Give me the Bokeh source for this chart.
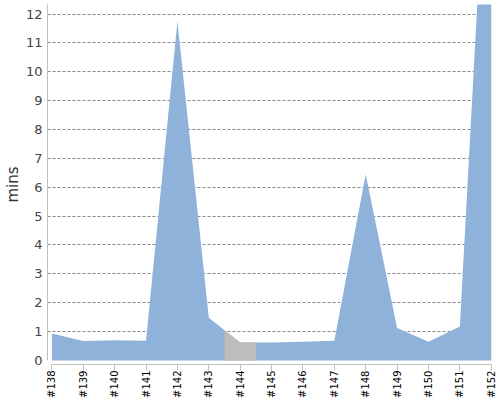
import numpy as np
from bokeh.plotting import figure
from bokeh.models import FixedTicker, Range1d
from bokeh.embed import file_html
from bokeh.resources import INLINE

# ---- data ----
runs = list(range(138, 153))
run_labels = [f"#{r}" for r in runs]
mins = [0.93, 0.67, 0.70, 0.68, 11.75, 1.48, 0.62, 0.62, 0.65, 0.68, 6.45, 1.12, 0.65, 1.18, 21.3]
gray_span = [143.5, 144.5]
y_ticks = list(range(0, 13))

BLUE = "#8fb2db"
GRAY = "#bdbdbd"
Y_START, Y_END = -0.14, 12.33

p = figure(width=500, height=400, output_backend="svg", toolbar_location=None,
           x_range=Range1d(137.86, 152.04), y_range=Range1d(Y_START, Y_END))
p.min_border_top = 4
p.min_border_right = 8
p.min_border_bottom = 0
p.min_border_left = 0
p.outline_line_color = None
p.background_fill_color = "white"

# main area
p.varea(x=runs, y1=0, y2=mins, fill_color=BLUE, fill_alpha=1.0)

# gray highlighted span
xs = np.array(runs, dtype=float)
inner = xs[(xs > gray_span[0]) & (xs < gray_span[1])]
gx = np.concatenate([[gray_span[0]], inner, [gray_span[1]]])
gy = np.interp(gx, xs, np.array(mins))
p.varea(x=gx, y1=0, y2=gy, fill_color=GRAY, fill_alpha=1.0)

# grid
p.xgrid.visible = False
p.ygrid.ticker = FixedTicker(ticks=y_ticks[1:])
p.ygrid.grid_line_color = "#8a8a8a"
p.ygrid.grid_line_dash = "3 2"
p.ygrid.grid_line_width = 1

# x axis
xa = p.xaxis[0]
xa.ticker = FixedTicker(ticks=runs)
xa.major_label_overrides = {r: l for r, l in zip(runs, run_labels)}
xa.major_label_orientation = np.pi / 2
xa.major_label_text_font = "DejaVu Sans"
xa.major_label_text_font_size = "10px"
xa.major_label_text_color = "#000000"
xa.major_label_standoff = 0
xa.major_tick_out = 6
xa.major_tick_in = 0
xa.minor_tick_out = 0
xa.minor_tick_in = 0
xa.axis_line_color = "#c0c0c0"
xa.major_tick_line_color = "#c0c0c0"
xa.axis_label_standoff = 0
xa.bounds = (runs[0], runs[-1])

# y axis
ya = p.yaxis[0]
ya.ticker = FixedTicker(ticks=y_ticks)
ya.major_label_text_font = "DejaVu Sans"
ya.major_label_text_font_size = "13px"
ya.major_label_text_color = "#444444"
ya.major_label_standoff = 5
ya.major_tick_out = 0
ya.major_tick_in = 0
ya.minor_tick_out = 0
ya.minor_tick_in = 0
ya.axis_line_color = "#c0c0c0"
ya.bounds = (0, Y_END)
ya.axis_label = "mins"
ya.axis_label_text_font = "DejaVu Sans"
ya.axis_label_text_font_size = "15px"
ya.axis_label_text_font_style = "normal"
ya.axis_label_text_color = "#333333"
ya.axis_label_standoff = 1

open("out.html", "w").write(file_html(p, INLINE))
